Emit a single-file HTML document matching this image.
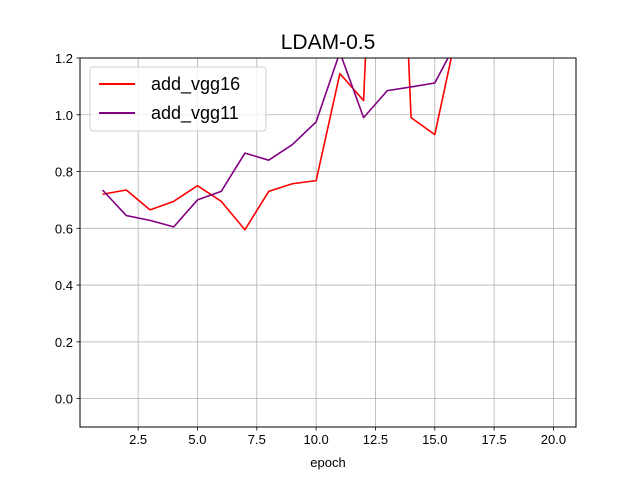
<!DOCTYPE html>
<html><head><meta charset="utf-8"><style>
body{margin:0;background:#fff;}
svg{display:block;font-family:"Liberation Sans","DejaVu Sans",sans-serif;}
</style></head><body>
<svg id="chart" width="640" height="480">
<defs><clipPath id="plotclip"><rect x="80" y="58" width="496" height="369"/></clipPath></defs>
<rect width="640" height="480" fill="#fff"/>
<g id="grid"></g>
<g id="lines" clip-path="url(#plotclip)"></g>
<rect x="80" y="58" width="496" height="369" fill="none" stroke="#000" stroke-width="1"/>
<g id="ticks"></g>
<text x="328" y="49" text-anchor="middle" font-size="21">LDAM-0.5</text>
<text x="328" y="467" text-anchor="middle" font-size="13">epoch</text>
<g>
<rect x="90" y="67" width="176" height="64" rx="3" fill="#fff" fill-opacity="0.8" stroke="#ccc"/>
<line x1="99" y1="84" x2="135" y2="84" stroke="#ff0000" stroke-width="2"/>
<text x="151" y="90" font-size="18">add_vgg16</text>
<line x1="99" y1="113" x2="135" y2="113" stroke="#800080" stroke-width="2"/>
<text x="151" y="119" font-size="18">add_vgg11</text>
</g>
</svg>
<script>
const epochs=[1,2,3,4,5,6,7,8,9,10,11,12,13,14,15,16,17,18,19,20];
const vgg16=[0.72,0.735,0.665,0.695,0.75,0.695,0.595,0.73,0.757,0.768,1.145,1.05,3.0,0.99,0.93,1.32,1.6,1.7,1.8,1.9];
const vgg11=[0.735,0.645,0.628,0.605,0.70,0.73,0.865,0.84,0.895,0.975,1.22,0.99,1.085,1.098,1.112,1.27,1.5,1.6,1.7,1.8];
const xTicks=[2.5,5.0,7.5,10.0,12.5,15.0,17.5,20.0];
const yTicks=[0.0,0.2,0.4,0.6,0.8,1.0,1.2];
const NS="http://www.w3.org/2000/svg";
const X0=80,X1=576,Y0=427,Y1=58,xmin=0.05,xmax=20.95,ymin=-0.1,ymax=1.2;
const sx=v=>X0+(v-xmin)/(xmax-xmin)*(X1-X0);
const sy=v=>Y0-(v-ymin)/(ymax-ymin)*(Y0-Y1);
const grid=document.getElementById('grid'),ticks=document.getElementById('ticks'),lines=document.getElementById('lines');
function mk(tag,attrs,parent){const e=document.createElementNS(NS,tag);for(const k in attrs)e.setAttribute(k,attrs[k]);parent.appendChild(e);return e;}
xTicks.forEach(t=>{
 const x=sx(t);
 const g=mk('line',{x1:x,x2:x,y1:Y1,y2:Y0,stroke:'#b0b0b0','stroke-width':0.8},grid);
 
 
 const tk=mk('line',{x1:x,x2:x,y1:Y0,y2:Y0+3.5,stroke:'#000','stroke-width':0.8},ticks);
 
 
 const tx=mk('text',{x:x,y:Y0+17,'text-anchor':'middle','font-size':13},ticks);
 tx.textContent=t.toFixed(1);
 
 
});
yTicks.forEach(t=>{
 const y=sy(t);
 const g=mk('line',{x1:X0,x2:X1,y1:y,y2:y,stroke:'#b0b0b0','stroke-width':0.8},grid);
 
 
 const tk=mk('line',{x1:X0-3.5,x2:X0,y1:y,y2:y,stroke:'#000','stroke-width':0.8},ticks);
 
 
 const tx=mk('text',{x:X0-7,y:y+5,'text-anchor':'end','font-size':13},ticks);
 tx.textContent=t.toFixed(1);
 
 
});
function series(vals,color,name){
 const pts=epochs.map((e,i)=>sx(e)+','+sy(vals[i])).join(' ');
 const p=mk('polyline',{points:pts,fill:'none',stroke:color,'stroke-width':1.6,'stroke-linejoin':'round'},lines);
 
 
}
series(vgg16,'#ff0000','line-add-vgg16');
series(vgg11,'#800080','line-add-vgg11');
</script>
</body></html>
